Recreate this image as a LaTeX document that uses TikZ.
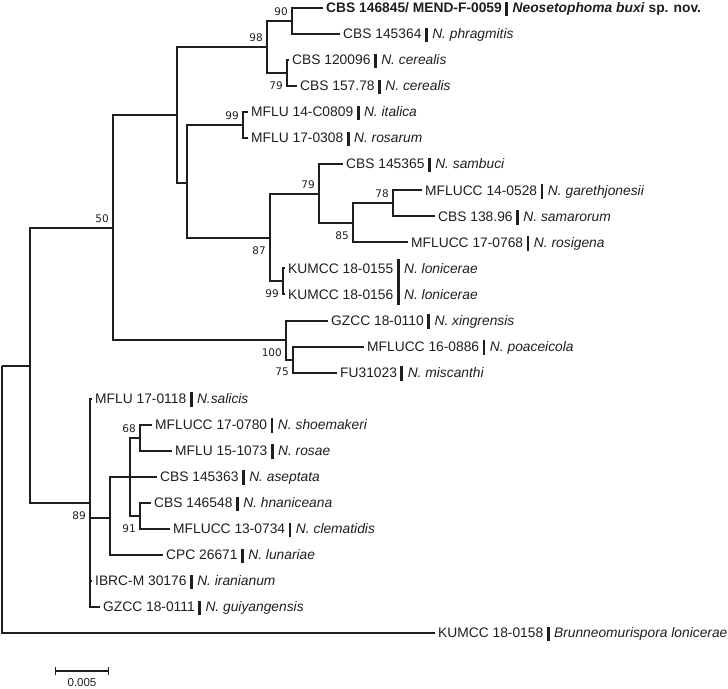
\documentclass[tikz,border=0pt]{standalone}
\usepackage{fontspec}
\setmainfont{Liberation Sans}
\newfontfamily\bootfont{DejaVu Sans}
\usetikzlibrary{arrows.meta}
\definecolor{TreeInk}{RGB}{30,30,30}
\newcommand{\sepbar}{\hspace{3.5pt}\smash{\rule[-3.5pt]{2.8pt}{14.5pt}}\hspace{4.5pt}}
\newcommand{\longsepbar}{\hspace{3.5pt}\smash{\rule[-32pt]{2.8pt}{46pt}}\hspace{4.5pt}}
\newcommand{\nosepbar}{\hspace{10.8pt}}
\tikzset{
  phy/leaf/.style={
    anchor=west,
    inner xsep=3pt,
    inner ysep=0pt,
    text height=9.5pt,
    text depth=0pt,
    text=TreeInk,
    font=\fontsize{13.8}{16}\selectfont
  },
  phy/branch/.style={line width=2pt, draw=TreeInk},
  phy/bootup/.style={anchor=south east, inner sep=0pt, xshift=-4pt, yshift=5pt,
    text=TreeInk, font=\bootfont\fontsize{10.5}{12}\selectfont},
  phy/bootdown/.style={anchor=north east, inner sep=0pt, xshift=-4pt, yshift=-8.5pt,
    text=TreeInk, font=\bootfont\fontsize{10.5}{12}\selectfont},
  phy/scale/.style={line width=1.2pt, draw=TreeInk, {Bar[width=8pt]}-{Bar[width=8pt]}},
  phy/scalelabel/.style={inner sep=0pt, text=TreeInk, font=\fontsize{11.5}{13}\selectfont}
}
\begin{document}
\begin{tikzpicture}[x=1pt,y=-1pt]
  \useasboundingbox (0,0) rectangle (728,688);
  % internal nodes
  \coordinate (root) at (2,365.5);
  \coordinate (nC) at (30,365.5);
  \coordinate (n50) at (113,228);
  \coordinate (nA) at (177,115);
  \coordinate (n98) at (267,47);
  \coordinate (n90) at (292,21);
  \coordinate (n79a) at (287,73.1);
  \coordinate (nB) at (187,183);
  \coordinate (n99a) at (243,125.2);
  \coordinate (n87) at (270,238);
  \coordinate (n79b) at (319,194);
  \coordinate (n85) at (353,223);
  \coordinate (n78) at (393,203.3);
  \coordinate (n99b) at (283,281.4);
  \coordinate (n100) at (286,340);
  \coordinate (n75) at (293,359.5);
  \coordinate (n89) at (90,503);
  \coordinate (nD) at (110,518);
  \coordinate (nE) at (130,476.7);
  \coordinate (n68) at (140,437.6);
  \coordinate (n91) at (140,515.8);
  % taxa
  \node[phy/leaf] (l1) at (323,8) {\textbf{CBS 146845/ MEND-F-0059}\sepbar\textbf{\textit{Neosetophoma buxi} sp. nov.}};
  \node[phy/leaf] (l2) at (340,34) {CBS 145364\sepbar\textit{N. phragmitis}};
  \node[phy/leaf] (l3) at (289,60.1) {CBS 120096\sepbar\textit{N. cerealis}};
  \node[phy/leaf] (l4) at (297,86.1) {CBS 157.78\sepbar\textit{N. cerealis}};
  \node[phy/leaf] (l5) at (248,112.2) {MFLU 14-C0809\sepbar\textit{N. italica}};
  \node[phy/leaf] (l6) at (248,138.2) {MFLU 17-0308\sepbar\textit{N. rosarum}};
  \node[phy/leaf] (l7) at (343,164.2) {CBS 145365\sepbar\textit{N. sambuci}};
  \node[phy/leaf] (l8) at (422,190.3) {MFLUCC 14-0528\sepbar\textit{N. garethjonesii}};
  \node[phy/leaf] (l9) at (435,216.3) {CBS 138.96\sepbar\textit{N. samarorum}};
  \node[phy/leaf] (l10) at (408,242.4) {MFLUCC 17-0768\sepbar\textit{N. rosigena}};
  \node[phy/leaf] (l11) at (285,268.4) {KUMCC 18-0155\longsepbar\textit{N. lonicerae}};
  \node[phy/leaf] (l12) at (285,294.4) {KUMCC 18-0156\nosepbar\textit{N. lonicerae}};
  \node[phy/leaf] (l13) at (328,320.5) {GZCC 18-0110\sepbar\textit{N. xingrensis}};
  \node[phy/leaf] (l14) at (364,346.5) {MFLUCC 16-0886\sepbar\textit{N. poaceicola}};
  \node[phy/leaf] (l15) at (337,372.6) {FU31023\sepbar\textit{N. miscanthi}};
  \node[phy/leaf] (l16) at (92,398.6) {MFLU 17-0118\sepbar\textit{N.salicis}};
  \node[phy/leaf] (l17) at (152,424.6) {MFLUCC 17-0780\sepbar\textit{N. shoemakeri}};
  \node[phy/leaf] (l18) at (172,450.7) {MFLU 15-1073\sepbar\textit{N. rosae}};
  \node[phy/leaf] (l19) at (157,476.7) {CBS 145363\sepbar\textit{N. aseptata}};
  \node[phy/leaf] (l20) at (151,502.8) {CBS 146548\sepbar\textit{N. hnaniceana}};
  \node[phy/leaf] (l21) at (170,528.8) {MFLUCC 13-0734\sepbar\textit{N. clematidis}};
  \node[phy/leaf] (l22) at (163,554.8) {CPC 26671\sepbar\textit{N. lunariae}};
  \node[phy/leaf] (l23) at (92,580.9) {IBRC-M 30176\sepbar\textit{N. iranianum}};
  \node[phy/leaf] (l24) at (100,606.9) {GZCC 18-0111\sepbar\textit{N. guiyangensis}};
  \node[phy/leaf] (l25) at (435,633) {KUMCC 18-0158\sepbar\textit{Brunneomurispora lonicerae}};
  % branches
  \draw[phy/branch] (root) |- (nC);
  \draw[phy/branch] (root) |- (l25.west);
  \draw[phy/branch] (nC) |- (n50);
  \draw[phy/branch] (nC) |- (n89);
  \draw[phy/branch] (n50) |- (nA);
  \draw[phy/branch] (n50) |- (n100);
  \draw[phy/branch] (nA) |- (n98);
  \draw[phy/branch] (nA) |- (nB);
  \draw[phy/branch] (n98) |- (n90);
  \draw[phy/branch] (n98) |- (n79a);
  \draw[phy/branch] (n90) |- (l1.west);
  \draw[phy/branch] (n90) |- (l2.west);
  \draw[phy/branch] (n79a) |- (l3.west);
  \draw[phy/branch] (n79a) |- (l4.west);
  \draw[phy/branch] (nB) |- (n99a);
  \draw[phy/branch] (nB) |- (n87);
  \draw[phy/branch] (n99a) |- (l5.west);
  \draw[phy/branch] (n99a) |- (l6.west);
  \draw[phy/branch] (n87) |- (n79b);
  \draw[phy/branch] (n87) |- (n99b);
  \draw[phy/branch] (n79b) |- (l7.west);
  \draw[phy/branch] (n79b) |- (n85);
  \draw[phy/branch] (n85) |- (n78);
  \draw[phy/branch] (n85) |- (l10.west);
  \draw[phy/branch] (n78) |- (l8.west);
  \draw[phy/branch] (n78) |- (l9.west);
  \draw[phy/branch] (n99b) |- (l11.west);
  \draw[phy/branch] (n99b) |- (l12.west);
  \draw[phy/branch] (n100) |- (l13.west);
  \draw[phy/branch] (n100) |- (n75);
  \draw[phy/branch] (n75) |- (l14.west);
  \draw[phy/branch] (n75) |- (l15.west);
  \draw[phy/branch] (n89) |- (l16.west);
  \draw[phy/branch] (n89) |- (nD);
  \draw[phy/branch] (n89) |- (l23.west);
  \draw[phy/branch] (n89) |- (l24.west);
  \draw[phy/branch] (nD) |- (nE);
  \draw[phy/branch] (nD) |- (l19.west);
  \draw[phy/branch] (nD) |- (l22.west);
  \draw[phy/branch] (nE) |- (n68);
  \draw[phy/branch] (nE) |- (n91);
  \draw[phy/branch] (n68) |- (l17.west);
  \draw[phy/branch] (n68) |- (l18.west);
  \draw[phy/branch] (n91) |- (l20.west);
  \draw[phy/branch] (n91) |- (l21.west);
  % bootstrap support
  \node[phy/bootup] (b90) at (n90) {90};
  \node[phy/bootup] (b98) at (n98) {98};
  \node[phy/bootdown] (b79a) at (n79a) {79};
  \node[phy/bootup] (b99a) at (n99a) {99};
  \node[phy/bootup] (b79b) at (n79b) {79};
  \node[phy/bootdown] (b85) at (n85) {85};
  \node[phy/bootup] (b78) at (n78) {78};
  \node[phy/bootdown] (b87) at (n87) {87};
  \node[phy/bootdown] (b99b) at (n99b) {99};
  \node[phy/bootup] (b50) at (n50) {50};
  \node[phy/bootdown] (b100) at (n100) {100};
  \node[phy/bootdown] (b75) at (n75) {75};
  \node[phy/bootup] (b68) at (n68) {68};
  \node[phy/bootdown] (b89) at (n89) {89};
  \node[phy/bootdown] (b91) at (n91) {91};
  % scale bar
  \coordinate (sb0) at (55,671);
  \coordinate (sb1) at (109,671);
  \draw[phy/scale] (sb0) -- (sb1);
  \node[phy/scalelabel] (sblabel) at (82,683) {0.005};
\end{tikzpicture}
\end{document}
